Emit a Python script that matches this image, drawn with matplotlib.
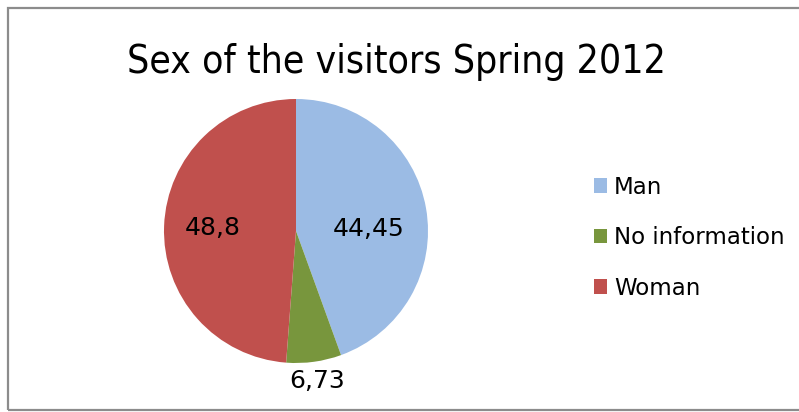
import numpy as np
import matplotlib
matplotlib.use("Agg")
import matplotlib.pyplot as plt
from matplotlib.patches import Rectangle

# datos del gráfico
categories = ["Man", "No information", "Woman"]
values = [44.45, 6.73, 48.8]
value_labels = ["44,45", "6,73", "48,8"]
colors = ["#9BBBE4", "#78963D", "#C0504D"]
label_radius = [0.56, 1.15, 0.63]
label_nudge = [-0.08, 0.0, 0.0]  # desplazamiento vertical de la etiqueta

TITLE = "Sex of the visitors Spring 2012"

W, H = 799, 412
fig = plt.figure(figsize=(W / 100, H / 100), dpi=100)

# marco gris alrededor del área del gráfico
fig.patches.append(Rectangle((8 / W, 2 / H), 1.0, 402 / H, transform=fig.transFigure,
                             fill=False, edgecolor="#8C8C8C", linewidth=1.6))

cx, cy, r = 296, 231, 132
ax = fig.add_axes([(cx - r) / W, (H - cy - r) / H, 2 * r / W, 2 * r / H])
wedges, _ = ax.pie(values, colors=colors, startangle=90, counterclock=False,
                   wedgeprops=dict(linewidth=0))
ax.set_xlim(-1, 1)
ax.set_ylim(-1, 1)
ax.set_aspect("equal")
ax.axis("off")

# etiquetas de valor en el ángulo medio de cada sector
for w, lab, rad, dy in zip(wedges, value_labels, label_radius, label_nudge):
    mid = np.deg2rad((w.theta1 + w.theta2) / 2)
    ax.text(rad * np.cos(mid), rad * np.sin(mid) + dy, lab, ha="center", va="center",
            fontsize=18, family="DejaVu Sans", clip_on=False)

fig.text(396 / W, 1 - 62 / H, TITLE, ha="center", va="center", fontsize=28,
         family="DejaVu Sans", stretch="condensed")

leg = fig.legend(wedges, categories, loc="upper left",
                 bbox_to_anchor=(573 / W, 1 - 155 / H), frameon=False,
                 handlelength=0.6, handleheight=0.6,
                 handletextpad=0.3, labelspacing=1.2,
                 prop=dict(family="DejaVu Sans", size=16.5))

fig.savefig("out.png", dpi=100)
